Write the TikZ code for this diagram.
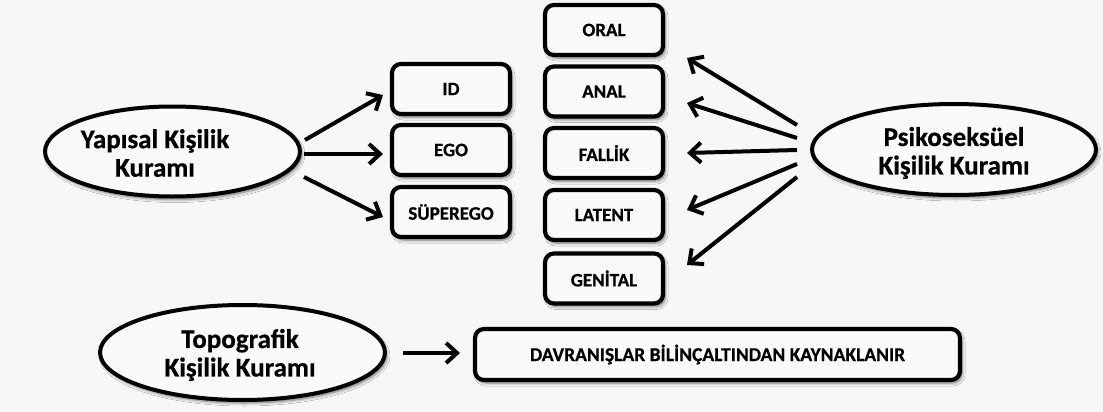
\documentclass[tikz,border=0pt]{standalone}
\usepackage{fontspec}
\setmainfont{Carlito}[BoldFeatures={FakeBold=0.6}]
\usetikzlibrary{arrows.meta,shapes.geometric,shadows.blur}
\definecolor{bg}{HTML}{F7F7F7}
\definecolor{fillc}{HTML}{FAFAFA}
\begin{document}
\begin{tikzpicture}[x=1pt,y=-1pt,
  shad/.style={blur shadow={shadow xshift=2pt, shadow yshift=-3pt, shadow blur steps=6, shadow opacity=55, shadow blur radius=3pt}},
  box/.style={draw, line width=4.2pt, rounded corners=9pt, fill=fillc, shad,
    minimum width=118pt, minimum height=50pt, inner sep=0pt,
    font=\fontsize{19}{21}\selectfont\bfseries},
  oval/.style={ellipse, draw, line width=4pt, fill=fillc, shad, inner sep=0pt},
  otext/.style={font=\fontsize{27}{28.5}\selectfont\bfseries, align=center},
  arr/.style={line width=4pt, -{Straight Barb[length=11pt,width=20pt]}}]
\fill[bg] (0,0) rectangle (1103,412);
\useasboundingbox (0,0) rectangle (1103,412);

% ellipses
\node[oval, minimum width=255pt, minimum height=90pt] (yap) at (172.5,151.5) {};
\node[otext] (yapt) at (155,153) {Yapısal Kişilik\\Kuramı};
\node[oval, minimum width=284pt, minimum height=91pt] (psi) at (954,149.5) {};
\node[otext] (psit) at (954,153) {Psikoseksüel\\Kişilik Kuramı};
\node[oval, minimum width=285pt, minimum height=95pt] (topo) at (242.5,352.5) {};
\node[otext] (topot) at (240,355) {Topografik\\Kişilik Kuramı};

% left boxes
\node[box] (id) at (451,89) {ID};
\node[box] (ego) at (451,150) {EGO};
\node[box] (sup) at (451,212) {SÜPEREGO};

% right boxes
\node[box] (oral) at (604,30) {ORAL};
\node[box] (anal) at (604,91.5) {ANAL};
\node[box] (fallik) at (604,153) {FALLİK};
\node[box] (latent) at (604,215) {LATENT};
\node[box] (genital) at (604,278.5) {GENİTAL};

% bottom box
\node[box, minimum width=485pt, minimum height=51pt, font=\fontsize{19.5}{21}\selectfont\bfseries] (davr) at (717.5,354.5) {DAVRANIŞLAR BİLİNÇALTINDAN KAYNAKLANIR};

% arrow end points
\coordinate (ys1) at (305,140); \coordinate (ye1) at (383,95);
\coordinate (ys2) at (304,154); \coordinate (ye2) at (383,154);
\coordinate (ys3) at (304,177); \coordinate (ye3) at (383,217);
\coordinate (ps1) at (797,125); \coordinate (pe1) at (687,58);
\coordinate (ps2) at (797,138); \coordinate (pe2) at (687,103);
\coordinate (ps3) at (797,150); \coordinate (pe3) at (687,153);
\coordinate (ps4) at (797,164); \coordinate (pe4) at (687,210);
\coordinate (ps5) at (797,177); \coordinate (pe5) at (687,265);
\coordinate (ts) at (403,353); \coordinate (te) at (460,353);

\draw[arr] (ys1) -- (ye1);
\draw[arr] (ys2) -- (ye2);
\draw[arr] (ys3) -- (ye3);
\draw[arr] (ps1) -- (pe1);
\draw[arr] (ps2) -- (pe2);
\draw[arr] (ps3) -- (pe3);
\draw[arr] (ps4) -- (pe4);
\draw[arr] (ps5) -- (pe5);
\draw[arr] (ts) -- (te);
\end{tikzpicture}
\end{document}
